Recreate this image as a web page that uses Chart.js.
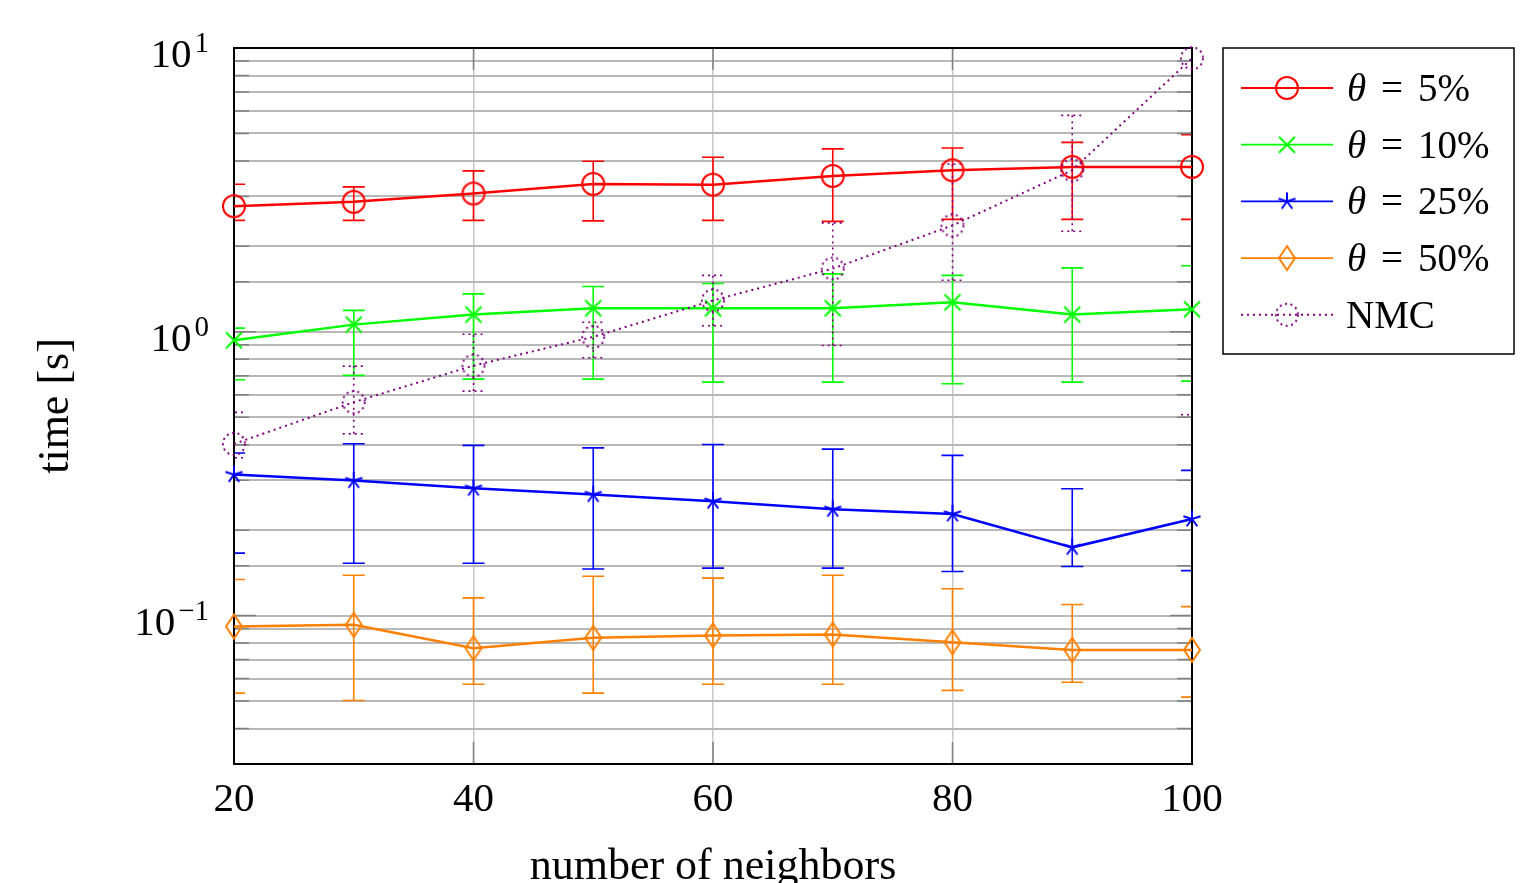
<!DOCTYPE html>
<html>
<head>
<meta charset="utf-8">
<script src="https://cdn.jsdelivr.net/npm/chart.js@4/dist/chart.umd.min.js"></script>
<style>
  html, body { margin: 0; padding: 0; background: #fff; }
  #wrap { width: 1538px; height: 883px; }
</style>
</head>
<body>
<div id="wrap"><canvas id="plot"></canvas></div>
<script>
//! Data

const neighbors = [20, 30, 40, 50, 60, 70, 80, 90, 100];

const t5 = [2.77, 2.87, 3.07, 3.32, 3.30, 3.54, 3.71, 3.81, 3.81];
const t5Lo = [2.47, 2.47, 2.47, 2.46, 2.47, 2.45, 2.49, 2.49, 2.49];
const t5Hi = [3.31, 3.24, 3.69, 3.99, 4.12, 4.41, 4.44, 4.65, 4.95];

const t10 = [0.933, 1.06, 1.15, 1.21, 1.21, 1.21, 1.27, 1.15, 1.2];
const t10Lo = [0.678, 0.702, 0.681, 0.681, 0.665, 0.665, 0.656, 0.665, 0.67];
const t10Hi = [1.03, 1.19, 1.36, 1.445, 1.48, 1.6, 1.58, 1.68, 1.71];

const t25 = [0.314, 0.299, 0.281, 0.267, 0.253, 0.237, 0.228, 0.174, 0.219];
const t25Lo = [0.166, 0.153, 0.153, 0.146, 0.147, 0.147, 0.143, 0.149, 0.144];
const t25Hi = [0.374, 0.403, 0.398, 0.39, 0.401, 0.386, 0.367, 0.28, 0.325];

const t50 = [0.0915, 0.0928, 0.0768, 0.0835, 0.0851, 0.0858, 0.0806, 0.0757, 0.0757];
const t50Lo = [0.0533, 0.0502, 0.0573, 0.0533, 0.0573, 0.0573, 0.0545, 0.0582, 0.0516];
const t50Hi = [0.134, 0.1388, 0.1155, 0.1377, 0.1355, 0.1388, 0.1243, 0.1094, 0.1076];

const nmc = [0.403, 0.565, 0.76, 0.96, 1.29, 1.67, 2.37, 3.71, 9.2];
const nmcLo = [0.36, 0.437, 0.618, 0.81, 1.05, 0.895, 1.52, 2.26, 0.51];
const nmcHi = [0.52, 0.757, 0.98, 1.08, 1.58, 2.42, 3.9, 5.79, 14];

const xTicks = [20, 40, 60, 80, 100];
const yMajor = [10, 1, 0.1];
const yExp = ["1", "0", "\u22121"];

const seriesNames = ["5%", "10%", "25%", "50%", "NMC"];
const seriesColors = ["#ff0000", "#00ff00", "#0000ff", "#ff8000", "#800080"];

//! Markers

const SERIF = "'Liberation Serif', 'DejaVu Serif', serif";

function marker(w, h, draw) {
  const c = document.createElement("canvas");
  c.width = w;
  c.height = h;
  const ctx = c.getContext("2d");
  ctx.lineWidth = 2;
  draw(ctx);
  return c;
}

const markers = [
  marker(28, 28, (ctx) => {
    ctx.strokeStyle = seriesColors[0];
    ctx.beginPath();
    ctx.arc(14, 14, 11, 0, Math.PI * 2);
    ctx.stroke();
  }),
  marker(20, 20, (ctx) => {
    ctx.strokeStyle = seriesColors[1];
    ctx.beginPath();
    ctx.moveTo(2, 2); ctx.lineTo(18, 18);
    ctx.moveTo(18, 2); ctx.lineTo(2, 18);
    ctx.stroke();
  }),
  marker(22, 22, (ctx) => {
    ctx.strokeStyle = seriesColors[2];
    ctx.beginPath();
    for (let k = 0; k < 5; k++) {
      const a = -Math.PI / 2 + (k * 2 * Math.PI) / 5;
      ctx.moveTo(11, 11);
      ctx.lineTo(11 + 9 * Math.cos(a), 11 + 9 * Math.sin(a));
    }
    ctx.stroke();
  }),
  marker(20, 28, (ctx) => {
    ctx.strokeStyle = seriesColors[3];
    ctx.beginPath();
    ctx.moveTo(10, 2); ctx.lineTo(18, 14); ctx.lineTo(10, 26); ctx.lineTo(2, 14);
    ctx.closePath();
    ctx.stroke();
  }),
  marker(28, 28, (ctx) => {
    ctx.strokeStyle = seriesColors[4];
    ctx.setLineDash([2, 3.5]);
    ctx.beginPath();
    ctx.arc(14, 14, 11, 0, Math.PI * 2);
    ctx.stroke();
  }),
];

const seriesData = [t5, t10, t25, t50, nmc];
const seriesLo = [t5Lo, t10Lo, t25Lo, t50Lo, nmcLo];
const seriesHi = [t5Hi, t10Hi, t25Hi, t50Hi, nmcHi];

//! Plugins

const errorBars = {
  id: "errorBars",
  beforeDatasetsDraw(chart) {
    const { ctx, chartArea: a, scales } = chart;
    ctx.save();
    ctx.beginPath();
    ctx.rect(a.left, a.top, a.right - a.left, a.bottom - a.top);
    ctx.clip();
    seriesData.forEach((s, i) => {
      ctx.strokeStyle = seriesColors[i];
      ctx.lineWidth = 1.6;
      ctx.setLineDash(i === 4 ? [2, 4] : []);
      neighbors.forEach((n, j) => {
        const x = scales.x.getPixelForValue(n);
        const y1 = scales.y.getPixelForValue(seriesLo[i][j]);
        const y2 = scales.y.getPixelForValue(seriesHi[i][j]);
        ctx.beginPath();
        ctx.moveTo(x, y1); ctx.lineTo(x, y2);
        ctx.moveTo(x - 11, y1); ctx.lineTo(x + 11, y1);
        ctx.moveTo(x - 11, y2); ctx.lineTo(x + 11, y2);
        ctx.stroke();
      });
    });
    ctx.restore();
  },
};

const frame = {
  id: "frame",
  beforeDatasetsDraw(chart) {
    const { ctx, chartArea: a, scales } = chart;
    ctx.save();
    ctx.strokeStyle = "#808080";
    ctx.lineWidth = 1.5;
    ctx.beginPath();
    scales.y.ticks.forEach((t) => {
      const y = scales.y.getPixelForValue(t.value);
      const len = yMajor.some((m) => Math.abs(Math.log10(t.value / m)) < 1e-6) ? 22 : 15;
      ctx.moveTo(a.left, y); ctx.lineTo(a.left + len, y);
      ctx.moveTo(a.right, y); ctx.lineTo(a.right - len, y);
    });
    xTicks.forEach((v) => {
      const x = scales.x.getPixelForValue(v);
      ctx.moveTo(x, a.top); ctx.lineTo(x, a.top + 22);
      ctx.moveTo(x, a.bottom); ctx.lineTo(x, a.bottom - 22);
    });
    ctx.stroke();
    ctx.strokeStyle = "#000";
    ctx.lineWidth = 2;
    ctx.strokeRect(a.left, a.top, a.right - a.left, a.bottom - a.top);
    ctx.restore();
  },
  afterDraw(chart) {
    const { ctx, scales } = chart;
    ctx.save();

    // y tick labels with superscripts
    ctx.fillStyle = "#000";
    ctx.textBaseline = "alphabetic";
    yMajor.forEach((v, i) => {
      const y = scales.y.getPixelForValue(v);
      ctx.font = "29px " + SERIF;
      const w = ctx.measureText(yExp[i]).width;
      const xe = 209 - w;
      ctx.textAlign = "left";
      ctx.fillText(yExp[i], xe, y + 4);
      ctx.font = "41px " + SERIF;
      ctx.textAlign = "right";
      ctx.fillText("10", xe - 3, y + 19);
    });

    // legend
    ctx.lineWidth = 1.5;
    ctx.strokeStyle = "#000";
    ctx.strokeRect(1223, 48, 291, 306);
    seriesNames.forEach((name, i) => {
      const y = 88 + i * 56.7;
      ctx.strokeStyle = seriesColors[i];
      ctx.lineWidth = i === 4 ? 2 : 1.8;
      ctx.setLineDash(i === 4 ? [2, 4] : []);
      ctx.beginPath();
      ctx.moveTo(1241, y); ctx.lineTo(1333, y);
      ctx.stroke();
      ctx.setLineDash([]);
      const m = markers[i];
      ctx.drawImage(m, 1287 - m.width / 2, y - m.height / 2);
      ctx.fillStyle = "#000";
      ctx.textAlign = "left";
      ctx.textBaseline = "alphabetic";
      if (i < 4) {
        ctx.font = "italic 39px " + SERIF;
        ctx.fillText("\u03b8", 1347, y + 13);
        ctx.font = "39px " + SERIF;
        ctx.fillText("=", 1381, y + 13);
        ctx.fillText(name, 1418, y + 13);
      } else {
        ctx.font = "39px " + SERIF;
        ctx.fillText(name, 1346, y + 13);
      }
    });
    ctx.restore();
  },
};

//! Chart

const datasets = seriesNames.map((name, i) => ({
  label: i < 4 ? "\u03b8 = " + name : name,
  data: seriesData[i],
  borderColor: seriesColors[i],
  backgroundColor: seriesColors[i],
  borderWidth: i === 4 ? 2 : 2.5,
  borderDash: i === 4 ? [2, 4] : [],
  pointStyle: markers[i],
  pointRadius: 10,
  pointHoverRadius: 10,
  tension: 0,
  fill: false,
  clip: false,
  order: 4 - i,
}));

new Chart(document.getElementById("plot"), {
  type: "line",
  data: { labels: neighbors, datasets },
  plugins: [errorBars, frame],
  options: {
    responsive: true,
    maintainAspectRatio: false,
    animation: false,
    events: [],
    layout: { padding: { left: 0, top: 48, right: 346, bottom: 0 } },
    plugins: { legend: { display: false }, tooltip: { enabled: false } },
    scales: {
      x: {
        type: "linear",
        min: 20,
        max: 100,
        afterFit: (s) => { s.height = 119; },
        afterBuildTicks: (s) => { s.ticks = xTicks.map((v) => ({ value: v })); },
        ticks: {
          color: "#000",
          padding: 12,
          font: { family: SERIF, size: 41 },
          maxRotation: 0,
        },
        grid: { color: "#c8c8c8", lineWidth: 1.5, drawTicks: false },
        border: { display: false },
        title: {
          display: true,
          text: "number of neighbors",
          color: "#000",
          font: { family: SERIF, size: 44, lineHeight: 0.7 },
          padding: 0,
        },
      },
      y: {
        type: "logarithmic",
        min: 0.03,
        max: 10,
        afterFit: (s) => { s.width = 234; },
        ticks: { display: false, autoSkip: false },
        grid: { color: "#b8b8b8", lineWidth: 2, drawTicks: false },
        border: { display: false },
        title: {
          display: true,
          text: "time [s]",
          color: "#000",
          font: { family: SERIF, size: 44 },
          padding: { top: 30, bottom: 0 },
        },
      },
    },
  },
});
</script>
</body>
</html>
